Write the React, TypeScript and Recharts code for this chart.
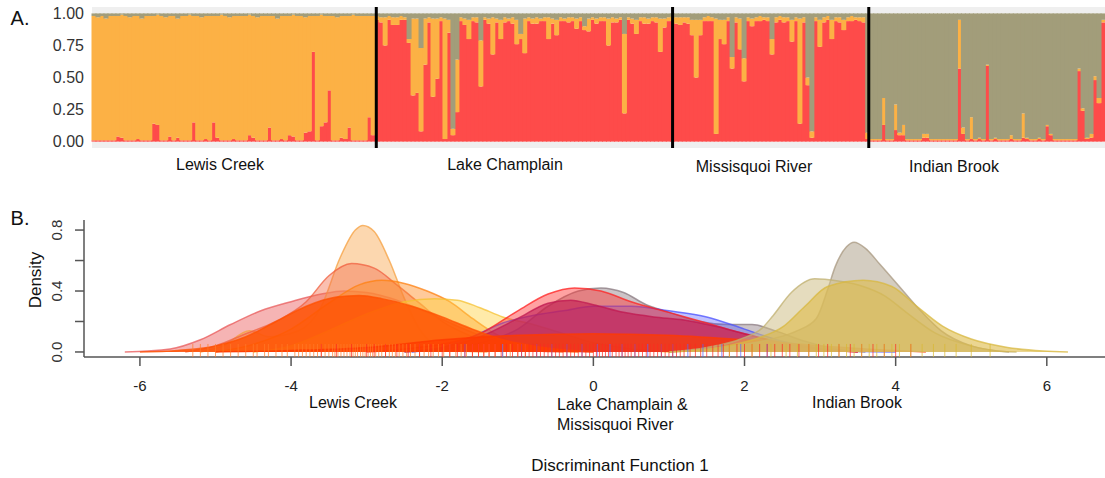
import {
  Area,
  Bar,
  BarChart,
  ComposedChart,
  ReferenceArea,
  ReferenceLine,
  Scatter,
  XAxis,
  YAxis,
} from "recharts";

const FONT = "'Liberation Sans', Arial, Helvetica, sans-serif";

// ---- panel A: admixture (percent) per individual ----
// Lewis Creek: red at the bottom, olive at the top, orange fills the rest
const lewisRed = [
  1, 1, 1, 1, 1, 1, 4, 3, 1, 1,
  1, 2, 1, 1, 1, 14, 13, 1, 1, 4,
  1, 3, 1, 1, 1, 15, 1, 1, 2, 1,
  15, 3, 1, 1, 1, 2, 1, 1, 1, 5,
  3, 1, 1, 1, 11, 1, 1, 2, 1, 5,
  4, 1, 1, 7, 8, 70, 1, 12, 15, 40,
  1, 1, 3, 2, 11, 1, 1, 1, 1, 19,
  5,
];
const lewisOlive = [
  2, 3, 2, 4, 2, 2, 2, 1, 2, 3,
  2, 2, 4, 2, 2, 2, 1, 2, 3, 2,
  2, 4, 2, 2, 1, 2, 2, 3, 2, 2,
  2, 2, 1, 2, 3, 2, 2, 2, 2, 1,
  2, 3, 2, 2, 2, 2, 4, 2, 2, 2,
  1, 2, 2, 3, 2, 2, 2, 1, 2, 2,
  2, 3, 2, 2, 2, 1, 2, 2, 2, 2,
  2,
];
// Lake Champlain: red fills the rest
const lakeOrange = [
  3, 4, 22, 3, 6, 6, 3, 2, 3, 60,
  58, 65, 36, 4, 61, 47, 3, 94, 10, 5,
  41, 3, 5, 15, 3, 4, 36, 2, 4, 29,
  3, 15, 4, 2, 5, 19, 4, 27, 3, 4,
  5, 2, 3, 17, 4, 12, 3, 2, 4, 3,
  8, 3, 3, 10, 2, 4, 3, 3, 21, 4,
  3, 2, 62, 2, 4, 11, 3, 5, 4, 3,
  4, 26, 7, 3,
];
const lakeOlive = [
  2, 3, 3, 2, 3, 3, 2, 3, 20, 4,
  4, 27, 4, 3, 4, 4, 3, 4, 5, 90,
  36, 3, 4, 5, 3, 3, 21, 3, 4, 3,
  4, 5, 3, 4, 3, 5, 16, 4, 3, 4,
  3, 4, 3, 3, 4, 5, 3, 4, 3, 3,
  4, 3, 10, 4, 3, 4, 3, 3, 4, 3,
  4, 3, 16, 3, 4, 5, 3, 3, 4, 3,
  3, 4, 4, 3,
];
// Missisquoi River: red fills the rest
const missOrange = [
  4, 5, 6, 4, 5, 12, 45, 12, 3, 4,
  3, 90, 15, 19, 3, 9, 4, 24, 18, 3,
  6, 3, 4, 2, 3, 12, 4, 3, 4, 3,
  17, 3, 82, 4, 6, 5, 3, 21, 4, 3,
  15, 3, 4, 8, 3, 4, 2, 3, 4,
];
const missOlive = [
  2, 3, 3, 3, 3, 5, 5, 5, 3, 2,
  3, 4, 5, 5, 3, 34, 3, 4, 35, 3,
  4, 3, 2, 3, 3, 20, 3, 2, 3, 3,
  5, 3, 4, 3, 50, 92, 3, 5, 3, 2,
  5, 3, 3, 5, 3, 2, 3, 3, 3,
];
// Indian Brook: olive fills the rest
const indianRed = [
  2, 1, 1, 1, 13, 1, 1, 9, 5, 5,
  1, 1, 1, 1, 3, 3, 1, 1, 1, 1,
  1, 1, 1, 57, 6, 1, 2, 1, 2, 1,
  59, 1, 2, 1, 1, 1, 2, 1, 1, 3,
  2, 1, 1, 2, 1, 12, 5, 1, 1, 1,
  1, 1, 1, 55, 24, 2, 3, 48, 30, 93,
];
const indianOrange = [
  5, 1, 1, 1, 21, 1, 1, 20, 2, 8,
  1, 1, 1, 1, 3, 3, 1, 1, 1, 1,
  1, 1, 1, 38, 5, 1, 17, 1, 1, 1,
  1, 1, 1, 1, 1, 1, 3, 1, 1, 19,
  1, 1, 1, 1, 1, 1, 1, 1, 1, 1,
  1, 1, 1, 2, 2, 1, 3, 3, 4, 2,
];

const qTicks = [0, 0.25, 0.5, 0.75, 1];

const RED = "#fe4b4a";
const ORANGE = "#fcb145";
const OLIVE = "#a29d7a";

interface Q {
  id: number;
  red: number;
  orange: number;
  olive: number;
}

const admix: Q[] = [];
const push = (red: number, orange: number, olive: number) =>
  admix.push({ id: admix.length, red: red / 100, orange: orange / 100, olive: olive / 100 });
lewisRed.forEach((r, i) => push(r, 100 - r - lewisOlive[i], lewisOlive[i]));
lakeOrange.forEach((o, i) => push(100 - o - lakeOlive[i], o, lakeOlive[i]));
missOrange.forEach((o, i) => push(100 - o - missOlive[i], o, missOlive[i]));
indianRed.forEach((r, i) => push(r, indianOrange[i], 100 - r - indianOrange[i]));

const bounds = [
  lewisRed.length,
  lewisRed.length + lakeOrange.length,
  lewisRed.length + lakeOrange.length + missOrange.length,
];

// ---- panel B: DAPC densities, [DF1, density] ----
const pinkWide = [[-6.2, 0], [-5.6, 0.02], [-5.2, 0.08], [-4.8, 0.18], [-4.4, 0.27], [-4.0, 0.33], [-3.6, 0.38], [-3.3, 0.4], [-3.0, 0.39], [-2.6, 0.34], [-2.2, 0.26], [-1.8, 0.17], [-1.4, 0.09], [-1.0, 0.04], [-0.5, 0.01], [0, 0]];
const peach = [[-5.2, 0], [-4.9, 0.04], [-4.55, 0.14], [-4.3, 0.1], [-3.9, 0.14], [-3.6, 0.3], [-3.35, 0.62], [-3.15, 0.8], [-3.05, 0.83], [-2.9, 0.79], [-2.7, 0.6], [-2.5, 0.35], [-2.3, 0.15], [-2.1, 0.05], [-1.8, 0.01], [-1.4, 0]];
const coral = [[-5.4, 0], [-5.0, 0.04], [-4.6, 0.12], [-4.2, 0.2], [-3.8, 0.33], [-3.5, 0.5], [-3.2, 0.58], [-2.9, 0.55], [-2.6, 0.44], [-2.3, 0.32], [-2.0, 0.2], [-1.6, 0.1], [-1.2, 0.04], [-0.8, 0.01], [-0.4, 0]];
const orangeD = [[-5.0, 0], [-4.5, 0.05], [-4.0, 0.15], [-3.5, 0.32], [-3.1, 0.44], [-2.8, 0.47], [-2.5, 0.45], [-2.2, 0.4], [-1.9, 0.33], [-1.6, 0.22], [-1.3, 0.12], [-1.0, 0.05], [-0.6, 0.01], [-0.2, 0]];
const yellow = [[-4.5, 0], [-4.0, 0.04], [-3.5, 0.14], [-3.0, 0.25], [-2.5, 0.33], [-2.1, 0.35], [-1.8, 0.34], [-1.5, 0.29], [-1.2, 0.23], [-0.8, 0.18], [-0.4, 0.12], [0, 0.06], [0.5, 0.02], [1, 0]];
const grayD = [[-2.5, 0], [-2, 0.02], [-1.5, 0.06], [-1.0, 0.15], [-0.6, 0.3], [-0.2, 0.4], [0.1, 0.42], [0.4, 0.39], [0.7, 0.31], [1.0, 0.26], [1.4, 0.2], [1.8, 0.18], [2.1, 0.18], [2.4, 0.14], [2.8, 0.07], [3.2, 0.02], [3.6, 0]];
const blue = [[-2.4, 0], [-2.0, 0.03], [-1.6, 0.1], [-1.2, 0.19], [-0.8, 0.24], [-0.4, 0.27], [0, 0.3], [0.5, 0.3], [1.0, 0.27], [1.5, 0.23], [2.0, 0.15], [2.5, 0.07], [3.0, 0.025], [3.5, 0.005], [4, 0]];
const redD = [[-3.0, 0], [-2.5, 0.02], [-2.0, 0.05], [-1.5, 0.12], [-1.0, 0.27], [-0.6, 0.38], [-0.25, 0.42], [0.1, 0.4], [0.5, 0.33], [1.0, 0.26], [1.5, 0.19], [2.0, 0.12], [2.5, 0.06], [3.0, 0.02], [3.5, 0]];
const crimson = [[-2.5, 0], [-2, 0.03], [-1.5, 0.1], [-1.0, 0.22], [-0.6, 0.32], [-0.3, 0.34], [0, 0.31], [0.4, 0.26], [0.8, 0.23], [1.2, 0.21], [1.6, 0.17], [2.0, 0.12], [2.5, 0.06], [3, 0.02], [3.5, 0]];
const darkOrange = [[-6.0, 0], [-5.5, 0.01], [-5.0, 0.04], [-4.6, 0.1], [-4.2, 0.2], [-3.8, 0.3], [-3.4, 0.36], [-3.1, 0.37], [-2.8, 0.35], [-2.4, 0.3], [-2.0, 0.23], [-1.6, 0.15], [-1.2, 0.08], [-0.8, 0.04], [-0.4, 0.015], [0, 0]];
const redLow = [[-5, 0], [-4, 0.01], [-3, 0.03], [-2, 0.08], [-1, 0.11], [0, 0.12], [1, 0.11], [2, 0.08], [3, 0.04], [4, 0.01], [4.4, 0]];
const taupe = [[1.0, 0], [1.5, 0.02], [2.0, 0.05], [2.4, 0.09], [2.7, 0.14], [2.95, 0.22], [3.1, 0.41], [3.2, 0.56], [3.35, 0.69], [3.45, 0.72], [3.6, 0.68], [3.8, 0.57], [4.1, 0.4], [4.35, 0.26], [4.6, 0.14], [5.0, 0.04], [5.5, 0]];
const khaki = [[1.0, 0], [1.5, 0.03], [1.95, 0.085], [2.24, 0.16], [2.38, 0.24], [2.62, 0.39], [2.93, 0.48], [3.24, 0.465], [3.57, 0.43], [3.85, 0.37], [4.14, 0.26], [4.52, 0.125], [5.0, 0.04], [5.37, 0.005], [5.6, 0]];
const gold = [[1.0, 0], [1.67, 0.03], [2.14, 0.085], [2.52, 0.17], [2.8, 0.3], [3.1, 0.43], [3.57, 0.47], [3.95, 0.43], [4.28, 0.3], [4.62, 0.17], [5.0, 0.085], [5.48, 0.03], [5.95, 0.006], [6.28, 0]];

// rug positions on DF1
const rugLewis = [-5.3, -5.2, -5.1, -5.0, -4.9, -4.8, -4.7, -4.6, -4.5, -4.45, -4.35, -4.3, -4.2, -4.12, -4.05, -3.95, -3.9, -3.85, -3.8, -3.75, -3.7, -3.65, -3.6, -3.55, -3.5, -3.45, -3.42, -3.38, -3.34, -3.3, -3.26, -3.22, -3.18, -3.15, -3.12, -3.08, -3.05, -3.02, -2.98, -2.95, -2.92, -2.88, -2.84, -2.8, -2.75, -2.7, -2.66, -2.62, -2.57, -2.52, -2.47, -2.42, -2.36, -2.3, -2.24, -2.18, -2.12, -2.05, -1.98, -1.9, -1.82, -1.75, -1.68, -1.6, -1.52, -1.45, -1.38, -1.3, -1.2, -1.1, -1.0, -0.9];
const rugLake = [-3.6, -3.4, -3.2, -3.0, -2.9, -2.75, -2.6, -2.45, -2.3, -2.15, -2.0, -1.9, -1.8, -1.7, -1.6, -1.52, -1.45, -1.38, -1.3, -1.22, -1.15, -1.07, -1.0, -0.95, -0.9, -0.85, -0.8, -0.75, -0.7, -0.65, -0.6, -0.55, -0.5, -0.45, -0.4, -0.35, -0.3, -0.25, -0.2, -0.15, -0.1, -0.05, 0, 0.04, 0.08, 0.12, 0.16, 0.2, 0.25, 0.3, 0.34, 0.38, 0.42, 0.46, 0.5, 0.55, 0.6, 0.65, 0.7, 0.75, 0.8, 0.85, 0.9, 0.95, 1.0, 1.05, 1.1, 1.15, 1.2, 1.28, 1.35, 1.42, 1.5, 1.58, 1.65, 1.72, 1.8, 1.9, 2.0, 2.1, 2.2, 2.3, 2.4, 2.5, 2.6, 2.72, 2.85, 2.98, 3.1, 3.25, 3.4, 3.55, 3.7, 3.85, 4.0, 4.2];
const rugMiss = [-1.7, -1.2, -0.95, -0.75, -0.55, -0.35, -0.15, 0.05, 0.22, 0.38, 0.55, 0.72, 0.9, 1.05, 1.25, 1.45, 1.7, 1.95, 2.3];
const rugIndian = [1.8, 2.1, 2.35, 2.55, 2.7, 2.85, 2.95, 3.05, 3.15, 3.25, 3.35, 3.45, 3.55, 3.65, 3.75, 3.85, 3.95, 4.05, 4.2, 4.35, 4.5, 4.65, 4.8, 5.0, 5.25];

const dfTicks = [-6, -4, -2, 0, 2, 4, 6];
const densTicks = [0, 0.2, 0.4, 0.6, 0.8];
const densLabelled = [0, 0.4, 0.8];
const X_DOMAIN: [number, number] = [-6.74, 6.77];

const toPts = (a: number[][]) => a.map(([x, y]) => ({ x, y }));

const densities = [
  { name: "pinkWide", pts: pinkWide, fill: "#ee6a6a", stroke: "#e85a5a", op: 0.5 },
  { name: "peach", pts: peach, fill: "#f9b060", stroke: "#f5a040", op: 0.5 },
  { name: "coral", pts: coral, fill: "#f47050", stroke: "#f06040", op: 0.45 },
  { name: "orange", pts: orangeD, fill: "#ff8a20", stroke: "#ff8010", op: 0.45 },
  { name: "yellow", pts: yellow, fill: "#ffd040", stroke: "#f5c030", op: 0.45 },
  { name: "gray", pts: grayD, fill: "#9a8a90", stroke: "#8a7a80", op: 0.5 },
  { name: "blue", pts: blue, fill: "#4a50ff", stroke: "#4a50ff", op: 0.35 },
  { name: "red", pts: redD, fill: "#ff3030", stroke: "#ff2020", op: 0.45 },
  { name: "crimson", pts: crimson, fill: "#c01850", stroke: "#c01850", op: 0.6 },
  { name: "darkOrange", pts: darkOrange, fill: "#ff5000", stroke: "#ff5000", op: 0.8 },
  { name: "redLow", pts: redLow, fill: "#ff3a00", stroke: "#ff3a00", op: 0.7 },
  { name: "taupe", pts: taupe, fill: "#b8ac98", stroke: "#a89880", op: 0.6 },
  { name: "khaki", pts: khaki, fill: "#cfc088", stroke: "#c0b070", op: 0.55 },
  { name: "gold", pts: gold, fill: "#ddbb48", stroke: "#d8b840", op: 0.6 },
];

const rugs = [
  { name: "rugLewis", xs: rugLewis, color: "#ff7a2a" },
  { name: "rugMiss", xs: rugMiss, color: "#5a60ff" },
  { name: "rugLake", xs: rugLake, color: "#ff2a20" },
  { name: "rugIndian", xs: rugIndian, color: "#d8b830" },
];

function DensityTick(props: any) {
  const { x, y, payload } = props;
  if (!densLabelled.includes(payload.value)) return <g />;
  const cx = x - 16;
  return (
    <text
      x={cx}
      y={y}
      transform={`rotate(-90 ${cx} ${y})`}
      textAnchor="middle"
      dominantBaseline="central"
      fontSize={15}
      fill="#333"
      fontFamily={FONT}
    >
      {payload.value.toFixed(1)}
    </text>
  );
}

function rugShape(color: string) {
  return (p: any) => (
    <line x1={p.cx} x2={p.cx} y1={p.cy - 8} y2={p.cy + 5} stroke={color} strokeOpacity={0.7} strokeWidth={1} />
  );
}

// widen each bar slightly so neighbouring individuals meet without seams
function qBar(color: string) {
  return (p: any) => (
    <rect x={p.x - 0.5} y={p.y} width={p.width + 1} height={Math.max(p.height, 0)} fill={color} />
  );
}

const label = (text: string, cx: number, cy: number, size = 16, extra: any = {}) => (
  <div
    style={{
      position: "absolute",
      left: cx,
      top: cy,
      transform: "translate(-50%, -50%)",
      whiteSpace: "nowrap",
      lineHeight: 1,
      fontSize: size,
      color: "#111",
      ...extra,
    }}
  >
    {text}
  </div>
);

export default function App() {
  return (
    <div
      style={{
        position: "absolute",
        left: 0,
        top: 0,
        width: 1105,
        height: 478,
        background: "#fff",
        fontFamily: FONT,
        overflow: "hidden",
      }}
    >
      <div style={{ position: "absolute", left: 0, top: 0 }}>
        <BarChart
          width={1105}
          height={152}
          data={admix}
          barCategoryGap={0}
          barGap={0}
          margin={{ top: 7, right: 0, bottom: 4, left: 0 }}
        >
          <XAxis dataKey="id" hide />
          <XAxis xAxisId="n" type="number" domain={[0, admix.length]} hide />
          <YAxis
            type="number"
            domain={[-0.05, 1.05]}
            allowDataOverflow
            ticks={qTicks}
            tickFormatter={(v: number) => v.toFixed(2)}
            axisLine={false}
            tickLine={false}
            width={92}
            tick={{ fontSize: 16, fill: "#333", fontFamily: FONT }}
          />
          <ReferenceArea y1={1} y2={1.05} fill="#efefef" fillOpacity={1} stroke="none" />
          <ReferenceArea y1={-0.05} y2={0} fill="#efefef" fillOpacity={1} stroke="none" />
          <Bar dataKey="red" stackId="q" fill={RED} shape={qBar(RED)} isAnimationActive={false} />
          <Bar dataKey="orange" stackId="q" fill={ORANGE} shape={qBar(ORANGE)} isAnimationActive={false} />
          <Bar dataKey="olive" stackId="q" fill={OLIVE} shape={qBar(OLIVE)} isAnimationActive={false} />
          {bounds.map((b) => (
            <ReferenceLine key={b} xAxisId="n" x={b} stroke="#000" strokeWidth={3} />
          ))}
        </BarChart>
      </div>

      <div style={{ position: "absolute", left: 0, top: 200 }}>
        <ComposedChart width={1105} height={200} margin={{ top: 20, right: 0, bottom: 3, left: 0 }}>
          <XAxis
            dataKey="x"
            type="number"
            domain={X_DOMAIN}
            allowDataOverflow
            ticks={dfTicks}
            height={40}
            tickSize={9}
            tickMargin={14}
            stroke="#555"
            strokeWidth={1.5}
            tick={{ fontSize: 15, fill: "#222", fontFamily: FONT }}
          />
          <XAxis
            xAxisId="top"
            orientation="top"
            type="number"
            domain={X_DOMAIN}
            allowDataOverflow
            tick={false}
            tickLine={false}
            height={0}
            stroke="#777"
            strokeWidth={1.5}
          />
          <YAxis
            dataKey="y"
            type="number"
            domain={[-0.033, 0.866]}
            allowDataOverflow
            ticks={densTicks}
            width={84}
            tickSize={9}
            stroke="#555"
            strokeWidth={1.5}
            tick={<DensityTick />}
          />
          {densities.map((d) => (
            <Area
              key={d.name}
              name={d.name}
              data={toPts(d.pts)}
              dataKey="y"
              type="monotone"
              fill={d.fill}
              fillOpacity={d.op}
              stroke={d.stroke}
              strokeOpacity={0.75}
              strokeWidth={1.5}
              dot={false}
              activeDot={false}
              isAnimationActive={false}
            />
          ))}
          {rugs.map((r) => (
            <Scatter
              key={r.name}
              name={r.name}
              data={r.xs.map((x) => ({ x, y: 0 }))}
              dataKey="y"
              shape={rugShape(r.color)}
              isAnimationActive={false}
            />
          ))}
        </ComposedChart>
      </div>

      {label("A.", 20, 18, 20)}
      {label("B.", 20, 218, 20)}
      {label("Lewis Creek", 220, 165)}
      {label("Lake Champlain", 505, 165)}
      {label("Missisquoi River", 754, 167)}
      {label("Indian Brook", 954, 167)}

      {label("Density", 35, 280, 17, { transform: "translate(-50%, -50%) rotate(-90deg)" })}
      {label("Lewis Creek", 353, 403)}
      <div style={{ position: "absolute", left: 557, top: 395, fontSize: 16, lineHeight: "20px", color: "#111", whiteSpace: "nowrap" }}>
        Lake Champlain &amp;
        <br />
        Missisquoi River
      </div>
      {label("Indian Brook", 857, 403)}
      {label("Discriminant Function 1", 620, 465, 17)}
    </div>
  );
}
